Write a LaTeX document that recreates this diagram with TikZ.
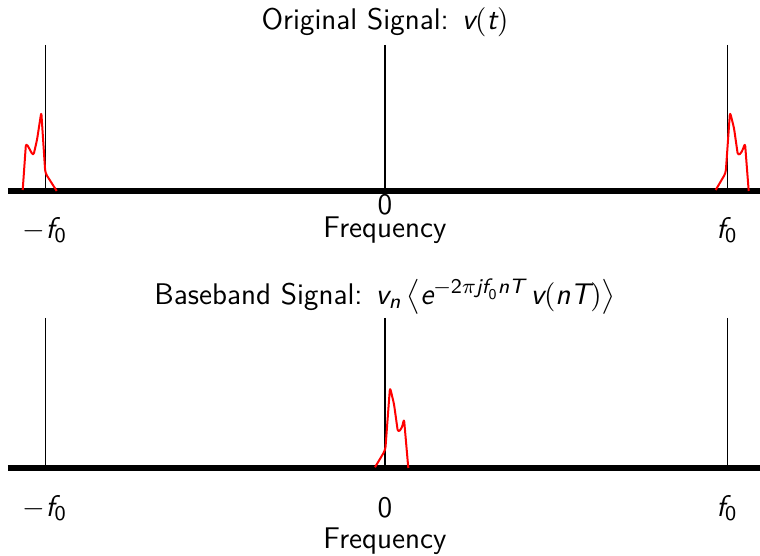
\documentclass[tikz,border=0pt]{standalone}
\usepackage{amsmath}
\usepackage{tikz}
\usepackage{xcolor}
\usetikzlibrary{positioning, calc}
\renewcommand{\familydefault}{\sfdefault}
\newcommand{\itsym}[1]{\textit{#1}}
\newcommand{\sfnum}[1]{\textsf{#1}}
\tikzset{
	axisline/.style ={line width=2.3pt, black},
	freqline/.style ={line width=0.35pt, black},
	zeroline/.style ={line width=0.85pt, black},
	spec/.style     ={line width=0.75pt, red, line join=round, rounded corners=1.2pt},
	lbl/.style      ={font=\fontsize{11.2}{13.5}\selectfont, inner sep=0pt},
}

\begin{document}
\begin{tikzpicture}[x=0.375pt, y=-0.375pt]
	\useasboundingbox (0,0) rectangle (760,556);
	% top panel: original signal
	\coordinate (ta0) at (8,191);
	\coordinate (ta1) at (760,191);
	\draw[freqline] (45,45) coordinate (tl) -- (45,191);
	\draw[zeroline] (385,45) coordinate (tz) -- (385,191);
	\draw[freqline] (727,45) coordinate (tr) -- (727,191);
	\draw[axisline] (ta0) -- (ta1);
	\draw[spec] (22.7,190) -- (26,143) -- (29,148) -- (33.3,156) -- (37,140) -- (41.3,112) -- (45.3,173) -- (56.7,191);
	\draw[spec] (715.7,190) -- (725.7,173) -- (730,112) -- (734,128) -- (738,156) -- (742,152) -- (745,143) -- (748.7,191);
	\node[lbl] (ttitle) at (385,22) {Original Signal: $\itsym{v}(\itsym{t})$};
	\node[lbl] (tzero) at (385,205) {\sfnum{0}};
	\node[lbl] (tfreq) at (385,230) {Frequency};
	\node[lbl] (tneg) at (45,230) {$-\itsym{f}_{\sfnum{0}}$};
	\node[lbl] (tpos) at (727,230) {$\itsym{f}_{\sfnum{0}}$};
	% bottom panel: baseband signal
	\coordinate (ba0) at (8,468);
	\coordinate (ba1) at (760,468);
	\draw[freqline] (45,318) coordinate (bl) -- (45,468);
	\draw[zeroline] (385,318) coordinate (bz) -- (385,468);
	\draw[freqline] (727,318) coordinate (br) -- (727,468);
	\draw[axisline] (ba0) -- (ba1);
	\draw[spec] (375,467.3) -- (385.3,450) -- (390,387.3) -- (394,404) -- (398,432.7) -- (402,428) -- (404,418.7) -- (408.3,468);
	\node[lbl] (btitle) at (385,297) {Baseband Signal: $\itsym{v}_{\itsym{n}}\left\langle \itsym{e}^{-\sfnum{2}\pi \itsym{jf}_{\sfnum{0}}\itsym{nT}}\,\itsym{v}(\itsym{nT})\right\rangle$};
	\node[lbl] (bzero) at (385,508) {\sfnum{0}};
	\node[lbl] (bneg) at (45,508) {$-\itsym{f}_{\sfnum{0}}$};
	\node[lbl] (bpos) at (727,508) {$\itsym{f}_{\sfnum{0}}$};
	\node[lbl] (bfreq) at (385,541) {Frequency};
\end{tikzpicture}
\end{document}
